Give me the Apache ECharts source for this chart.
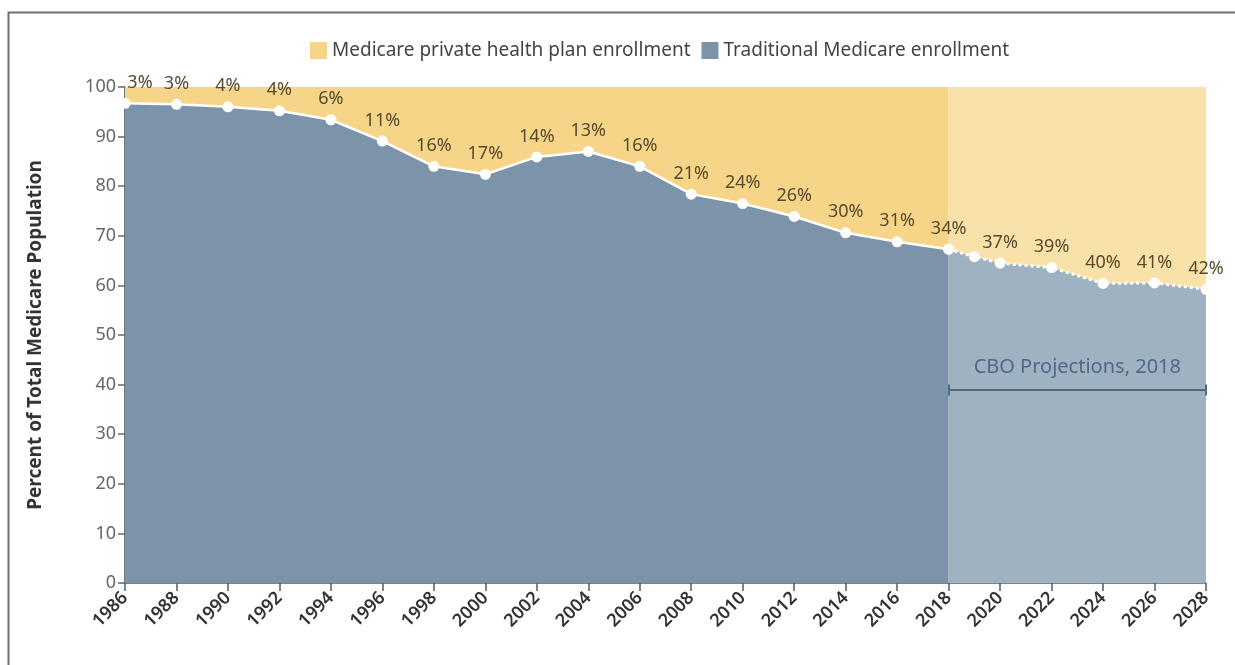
<!DOCTYPE html>
<html>
<head>
<meta charset="utf-8">
<script src="https://cdn.jsdelivr.net/npm/echarts@6/dist/echarts.min.js"></script>
<style>
  html, body { margin: 0; padding: 0; background: #ffffff; }
  #chart { width: 1235px; height: 665px; }
</style>
</head>
<body>
<div id="chart"></div>
<script>
// ---- Data ----
const yearsHist = [1986, 1988, 1990, 1992, 1994, 1996, 1998, 2000, 2002, 2004, 2006, 2008, 2010, 2012, 2014, 2016, 2018];
const traditionalHist = [96.7, 96.5, 96.0, 95.2, 93.4, 89.1, 84.0, 82.4, 85.9, 87.0, 84.0, 78.4, 76.5, 73.9, 70.6, 68.8, 67.3];
const privateLabelsHist = [3, 3, 4, 4, 6, 11, 16, 17, 14, 13, 16, 21, 24, 26, 30, 31, 34];

const yearsProj = [2018, 2019, 2020, 2022, 2024, 2026, 2028];
const traditionalProj = [67.3, 65.8, 64.5, 63.6, 60.4, 60.5, 59.2];
const privateLabelsProj = [null, null, 37, 39, 40, 41, 42];

const seriesNames = ['Medicare private health plan enrollment', 'Traditional Medicare enrollment'];
const projectionLabel = 'CBO Projections, 2018';
const projectionStart = 2018;
const projectionEnd = 2028;
const bracketLevel = 38.9;
const bracketCap = 1.1;
const yAxisTitle = 'Percent of Total Medicare Population';

// ---- Styles ----
const FONT = 'Noto Sans';
const YELLOW = '#f6d589';
const YELLOW_LIGHT = '#f9e2aa';
const BLUE = '#7b94aa';
const BLUE_LIGHT = '#9fb2c2';
const LABEL_COLOR = '#574b2c';

const pairs = (xs, ys) => xs.map((x, i) => [x, ys[i]]);

const histPoints = pairs(yearsHist, traditionalHist).map((p, i) => {
  if (i === 0) return { value: p, label: { offset: [15, 0] } };
  return { value: p };
});
const projPoints = pairs(yearsProj, traditionalProj);

const pointLabel = (arr) => ({
  show: true,
  position: 'top',
  distance: 6,
  fontFamily: FONT,
  fontSize: 18,
  color: LABEL_COLOR,
  formatter: (p) => (arr[p.dataIndex] == null ? '' : arr[p.dataIndex] + '%')
});

const chart = echarts.init(document.getElementById('chart'), null, { renderer: 'canvas' });

const option = {
  animation: false,
  backgroundColor: '#ffffff',
  textStyle: { fontFamily: FONT },
  graphic: [{
    type: 'rect',
    left: 6, top: 10,
    shape: { width: 1260, height: 680 },
    style: { fill: 'none', stroke: '#6e6e6e', lineWidth: 2 },
    silent: true, z: 100
  }],
  legend: {
    top: 36,
    left: 305,
    itemWidth: 17,
    itemHeight: 17,
    itemGap: 11,
    icon: 'rect',
    textStyle: { fontFamily: FONT, fontSize: 19, color: '#444' },
    data: [
      { name: seriesNames[0], itemStyle: { color: YELLOW } },
      { name: seriesNames[1], itemStyle: { color: BLUE } }
    ]
  },
  grid: { left: 125, right: 29, top: 87, bottom: 82, containLabel: false },
  xAxis: {
    type: 'value',
    min: 1986,
    max: 2028,
    interval: 2,
    splitLine: { show: false },
    axisLine: { show: true, lineStyle: { color: '#4d5c69', width: 1.5 } },
    axisTick: { show: true, length: 8, lineStyle: { color: '#4d5c69', width: 1.5 } },
    axisLabel: {
      rotate: 45,
      margin: 12,
      fontFamily: FONT,
      fontSize: 18,
      fontWeight: 600,
      color: '#333',
      formatter: (v) => String(v)
    }
  },
  yAxis: {
    type: 'value',
    min: 0,
    max: 100,
    interval: 10,
    name: yAxisTitle,
    nameLocation: 'middle',
    nameGap: 80,
    nameRotate: 90,
    nameTextStyle: { fontFamily: FONT, fontSize: 19, fontWeight: 'bold', color: '#333' },
    splitLine: { show: false },
    axisLine: { show: true, lineStyle: { color: '#3d4a55', width: 1.5 } },
    axisTick: { show: true, length: 7, lineStyle: { color: '#666', width: 1.5 } },
    axisLabel: { margin: 9, fontFamily: FONT, fontSize: 18, color: '#666' }
  },
  series: [
    {
      name: seriesNames[0],
      type: 'line',
      data: pairs(yearsHist, traditionalHist),
      symbol: 'none',
      lineStyle: { width: 0 },
      itemStyle: { color: YELLOW },
      areaStyle: { color: YELLOW, opacity: 1, origin: 'end' },
      z: 1,
      silent: true
    },
    {
      name: seriesNames[0],
      type: 'line',
      data: projPoints,
      symbol: 'none',
      lineStyle: { width: 0 },
      itemStyle: { color: YELLOW_LIGHT },
      areaStyle: { color: YELLOW_LIGHT, opacity: 1, origin: 'end' },
      z: 1,
      silent: true
    },
    {
      name: seriesNames[1],
      type: 'line',
      data: histPoints,
      symbol: 'circle',
      symbolSize: 11,
      showAllSymbol: true,
      lineStyle: { color: '#ffffff', width: 2.5 },
      itemStyle: { color: '#ffffff', borderWidth: 0 },
      areaStyle: { color: BLUE, opacity: 1, origin: 'start' },
      label: pointLabel(privateLabelsHist),
      z: 3
    },
    {
      name: seriesNames[1],
      type: 'line',
      data: projPoints,
      symbol: 'circle',
      symbolSize: 11,
      showAllSymbol: true,
      lineStyle: { color: '#ffffff', width: 3, type: 'dotted' },
      itemStyle: { color: '#ffffff', borderWidth: 0 },
      areaStyle: { color: BLUE_LIGHT, opacity: 1, origin: 'start' },
      label: pointLabel(privateLabelsProj),
      z: 3,
      markLine: {
        silent: true,
        symbol: 'none',
        lineStyle: { color: '#4e6a84', width: 2, type: 'solid' },
        label: { show: false },
        data: [
          [
            { coord: [projectionStart, bracketLevel],
              label: { show: true, position: 'insideMiddleTop', distance: 13, formatter: projectionLabel,
                       fontFamily: FONT, fontSize: 20, color: '#4e6a84' } },
            { coord: [projectionEnd, bracketLevel] }
          ],
          [ { coord: [projectionStart, bracketLevel - bracketCap] }, { coord: [projectionStart, bracketLevel + bracketCap] } ],
          [ { coord: [projectionEnd, bracketLevel - bracketCap] }, { coord: [projectionEnd, bracketLevel + bracketCap] } ]
        ]
      }
    }
  ]
};

chart.setOption(option);
</script>
</body>
</html>
